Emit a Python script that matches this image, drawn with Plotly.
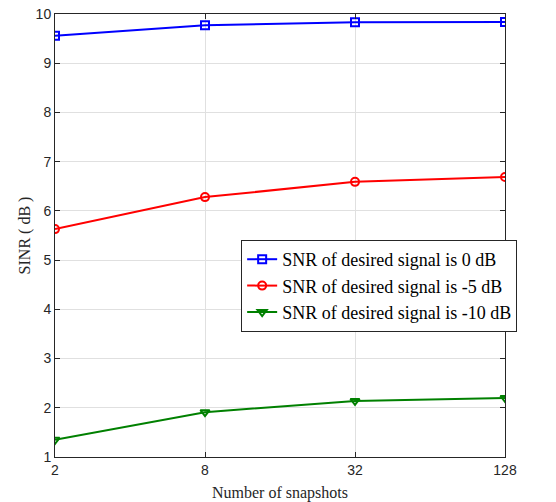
import plotly.graph_objects as go

snapshots = [2, 8, 32, 128]
tick_labels = ["2", "8", "32", "128"]
sinr_0db = [9.56, 9.77, 9.83, 9.84]
sinr_m5db = [5.63, 6.28, 6.59, 6.69]
sinr_m10db = [1.35, 1.91, 2.14, 2.20]
names = ["SNR of desired signal is 0 dB",
         "SNR of desired signal is -5 dB",
         "SNR of desired signal is -10 dB"]

fig = go.Figure()
styles = [("#0000ff", "square-open"), ("#ff0000", "circle-open"), ("#008000", "triangle-down-open")]
for ys, nm, (c, sym) in zip([sinr_0db, sinr_m5db, sinr_m10db], names, styles):
    fig.add_trace(go.Scatter(
        x=snapshots, y=ys, name=nm, mode="lines+markers",
        line=dict(color=c, width=2),
        marker=dict(symbol=sym, size=8, color=c, line=dict(width=2, color=c)),
    ))

axis_common = dict(
    showline=True, linecolor="#262626", linewidth=1, mirror="all",
    ticks="inside", ticklen=5, tickcolor="#262626",
    showgrid=True, gridcolor="#e0e0e0", gridwidth=1, zeroline=False,
    automargin=False, ticklabeloverflow="allow",
    tickfont=dict(family="Liberation Sans, Arial", size=14, color="#262626"),
)

fig.update_xaxes(
    type="log", range=[0.30103, 2.10721],
    tickvals=snapshots, ticktext=tick_labels,
    title=dict(text="Number of snapshots", font=dict(family="Liberation Serif, Times New Roman", size=16, color="#262626"), standoff=10),
    **axis_common,
)
fig.update_yaxes(
    range=[1, 10], tickvals=list(range(1, 11)),
    title=dict(text="SINR ( dB )", font=dict(family="Liberation Serif, Times New Roman", size=16, color="#262626"), standoff=1),
    **axis_common,
)

fig.update_layout(
    width=556, height=502,
    margin=dict(l=55, r=51, t=14, b=45),
    plot_bgcolor="white", paper_bgcolor="white",
    showlegend=True,
    legend=dict(
        x=1.027, y=0.386, xanchor="right", yanchor="middle",
        bgcolor="white", bordercolor="#262626", borderwidth=1,
        font=dict(family="Liberation Serif, Times New Roman", size=18, color="black"),
        tracegroupgap=0, itemwidth=30,
    ),
)

fig.write_html("out.html", config={"displayModeBar": False},
               post_script="document.body.style.margin='0';document.body.style.overflow='hidden';")
